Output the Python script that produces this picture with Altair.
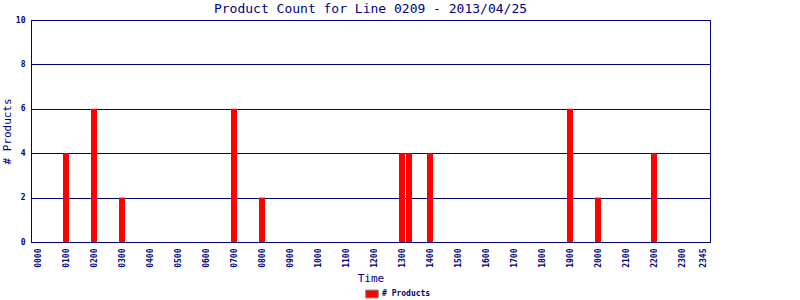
import altair as alt
import pandas as pd

times = ["0100", "0200", "0300", "0700", "0800", "1300", "1315", "1400", "1900", "2000", "2200"]
counts = [4, 6, 2, 6, 2, 4, 4, 4, 6, 2, 4]
tick_labels = ["0000", "0100", "0200", "0300", "0400", "0500", "0600", "0700", "0800",
               "0900", "1000", "1100", "1200", "1300", "1400", "1500", "1600", "1700",
               "1800", "1900", "2000", "2100", "2200", "2300", "2345"]
series_name = "# Products"

def to_min(s):
    return int(s[:2]) * 60 + int(s[2:])

df = pd.DataFrame({
    "minute": [to_min(t) for t in times],
    "count": counts,
    "series": [series_name] * len(times),
})

NAVY = "#000080"
FONT = "DejaVu Sans Mono"

chart = alt.Chart(df).mark_bar(size=6, color="#ff0000").encode(
    x=alt.X("minute:Q",
            scale=alt.Scale(domain=[-15, 1440], nice=False, zero=False, padding=0),
            axis=alt.Axis(values=[to_min(t) for t in tick_labels],
                          labelExpr="utcFormat(datum.value*60000, '%H%M')",
                          labelAngle=270, labelAlign="right", labelBaseline="middle",
                          labelPadding=6, ticks=False, grid=False,
                          title="Time", titleFontSize=11, titleFont=FONT,
                          titleFontWeight="normal", titleColor=NAVY, titlePadding=5,
                          labelFont=FONT, labelFontSize=8, labelFontWeight="bold",
                          labelColor=NAVY, domainColor=NAVY, labelOverlap=False)),
    y=alt.Y("count:Q",
            scale=alt.Scale(domain=[0, 10], nice=False),
            axis=alt.Axis(values=[0, 2, 4, 6, 8, 10], ticks=False, grid=True,
                          gridColor=NAVY, gridOpacity=1, gridWidth=1,
                          title="# Products", titleFontSize=11, titleFont=FONT,
                          titleFontWeight="normal", titleColor=NAVY,
                          titleX=-19, titleY=111, titleAlign="center",
                          titleBaseline="bottom", titleAngle=270,
                          labelFont=FONT, labelFontSize=8, labelFontWeight="bold",
                          labelColor=NAVY, labelPadding=6, domainColor=NAVY)),
    color=alt.Color("series:N",
                    scale=alt.Scale(domain=[series_name], range=["#ff0000"]),
                    legend=alt.Legend(orient="none", legendX=334, legendY=267,
                                      title=None, symbolType="M-1,-0.62H1V0.62H-1Z",
                                      symbolSize=160,
                                      symbolStrokeColor="#888888", symbolStrokeWidth=1,
                                      labelFont=FONT, labelFontSize=8, labelColor=NAVY,
                                      labelFontWeight="bold", labelOffset=3,
                                      direction="horizontal")),
).properties(
    width=679,
    height=222,
    title=alt.TitleParams("Product Count for Line 0209 - 2013/04/25",
                          font=FONT, fontSize=13, fontWeight="normal",
                          color=NAVY, offset=0, frame="group", dy=0),
    autosize=alt.AutoSizeParams(type="none"),
    padding={"left": 31, "top": 20, "right": 90, "bottom": 58},
).configure_view(stroke=NAVY, strokeWidth=1)

chart.save("out.html", embed_options={"renderer": "svg", "actions": False})
